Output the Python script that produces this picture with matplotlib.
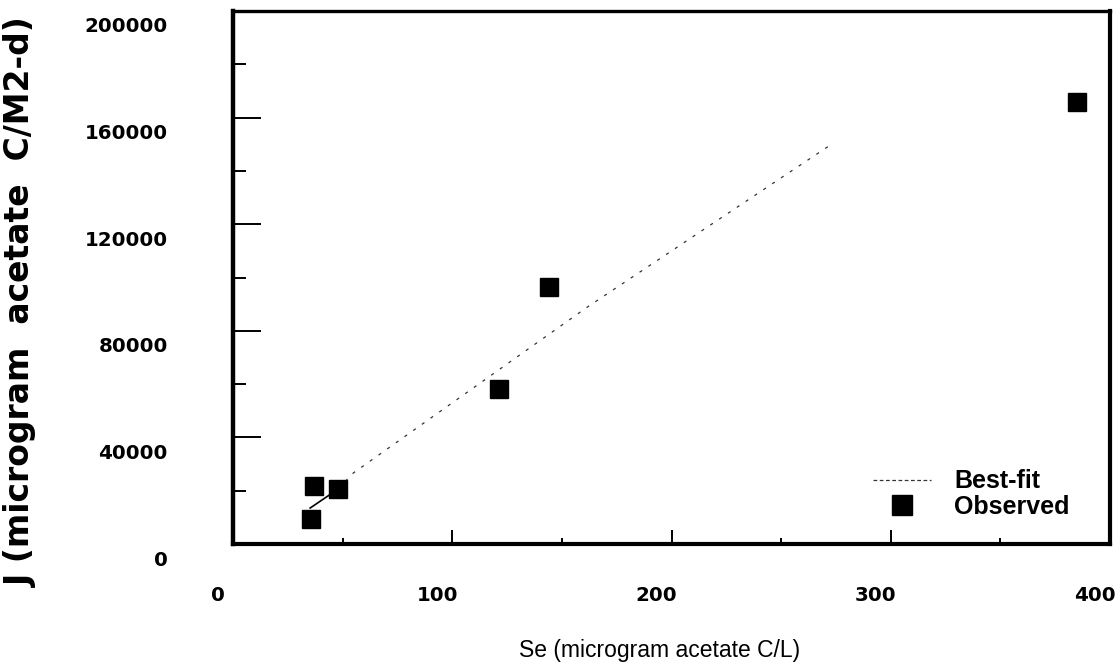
import matplotlib
matplotlib.use("Agg")
import matplotlib.pyplot as plt
from matplotlib.ticker import MultipleLocator, FixedLocator
from matplotlib.transforms import ScaledTranslation
from matplotlib.lines import Line2D

# Observed flux vs. effluent substrate concentration
se_obs = [35.6, 37.0, 47.9, 121.5, 144.3, 385.0]
j_obs = [9400, 21800, 20600, 58200, 96400, 165900]

# Best-fit curve read along its length
se_fit = [35.2, 47.9, 54.8, 161.6, 271.7]
j_fit = [13500, 20600, 26600, 88900, 149300]

x_ticks = [0, 100, 200, 300, 400]
y_ticks = [0, 40000, 80000, 120000, 160000, 200000]

W, H, DPI = 1120, 671, 100
fig = plt.figure(figsize=(W / DPI, H / DPI), dpi=DPI)
ax = fig.add_axes([233 / W, 1 - 544 / H, (1110 - 233) / W, (544 - 11) / H])

# solid start of the fit, then a sparse dotted continuation
ax.plot(se_fit[:2], j_fit[:2], color="black", lw=1.2, zorder=2)
ax.plot(se_fit[1:], j_fit[1:], color="#333333", lw=0.9, ls=(0, (2.5, 6)), zorder=2)
ax.plot(se_obs, j_obs, ls="none", marker="s", ms=13, color="black", zorder=3)

ax.set_xlim(0, 400)
ax.set_ylim(0, 200000)

ax.xaxis.set_major_locator(FixedLocator(x_ticks))
ax.xaxis.set_minor_locator(MultipleLocator(50))
ax.yaxis.set_major_locator(FixedLocator(y_ticks))
ax.yaxis.set_minor_locator(MultipleLocator(20000))

ax.tick_params(axis="x", which="major", direction="in", length=10, width=1.4, pad=30)
ax.tick_params(axis="x", which="minor", direction="in", length=4.5, width=1.4)
ax.tick_params(axis="y", which="major", direction="in", length=20, width=1.4, pad=47)
ax.tick_params(axis="y", which="minor", direction="in", length=9.5, width=1.4)

tick_font = dict(family="DejaVu Sans", weight="bold", size=14.3)
ax.set_xticklabels([str(v) for v in x_ticks], **tick_font)
ax.set_yticklabels([str(v) for v in y_ticks], **tick_font)

for lab in ax.get_xticklabels():
    lab.set_transform(lab.get_transform() + ScaledTranslation(-15 / DPI, 0, fig.dpi_scale_trans))
for lab in ax.get_yticklabels():
    lab.set_transform(lab.get_transform() + ScaledTranslation(0, -14 / DPI, fig.dpi_scale_trans))

for side, lw in [("left", 3.2), ("bottom", 3.0), ("right", 3.0), ("top", 2.4)]:
    ax.spines[side].set_linewidth(lw)

fig.text(21 / W, 1 - 302 / H, "J (microgram  acetate  C/M2-d)", rotation=90,
         ha="center", va="center", family="DejaVu Sans", weight="bold", size=23.8)
fig.text(660 / W, 1 - 650 / H, "Se (microgram acetate C/L)", ha="center", va="center",
         family="Liberation Sans", size=16.5)

handles = [Line2D([], [], color="#333333", lw=0.9, ls=(0, (3, 2))),
           Line2D([], [], ls="none", marker="s", ms=14, color="black")]
ax.legend(handles, ["Best-fit", "Observed"], loc="center left",
          bbox_to_anchor=((873 - 233) / (1110 - 233), (544 - 494) / (544 - 11)),
          frameon=False, borderpad=0, borderaxespad=0, handlelength=2.3,
          handletextpad=0.95, labelspacing=0.05,
          prop=dict(family="Liberation Sans", weight="bold", size=18))

fig.savefig("out.png", dpi=DPI)
